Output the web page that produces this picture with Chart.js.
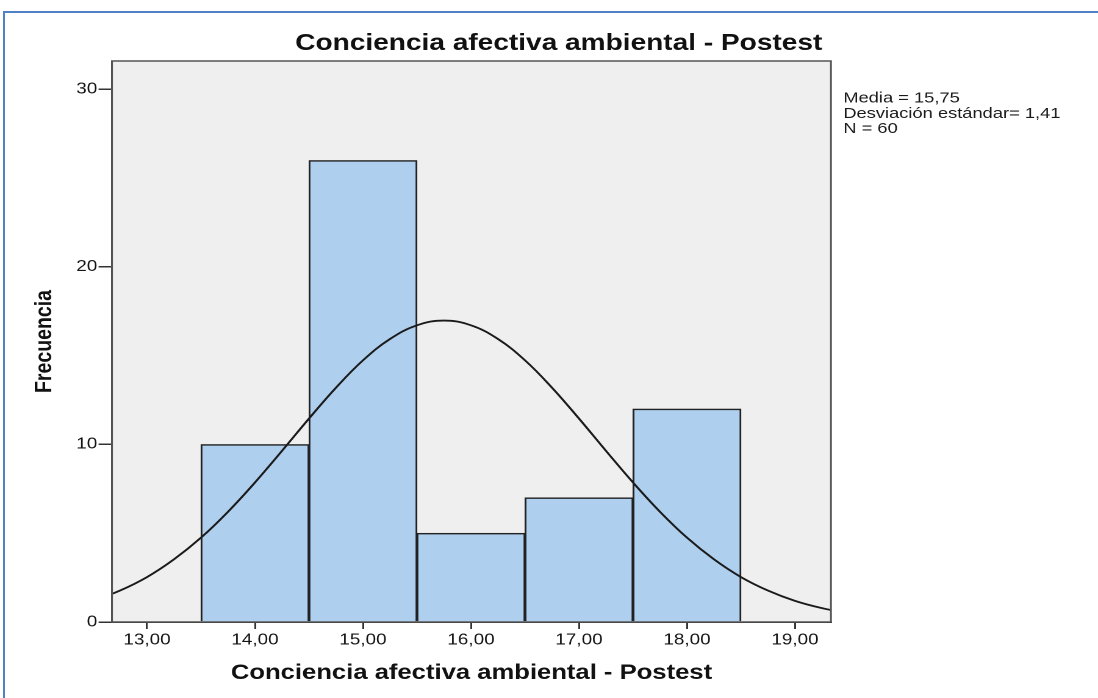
<!DOCTYPE html>
<html>
<head>
<meta charset="utf-8">
<title>Conciencia afectiva ambiental - Postest</title>
<script src="https://cdn.jsdelivr.net/npm/chart.js@4/dist/chart.umd.min.js"></script>
<style>
  html, body { margin: 0; padding: 0; background: #ffffff; width: 1098px; height: 698px; overflow: hidden; }
  #frame {
    position: absolute; left: 3px; top: 11px; width: 1200px; height: 800px;
    border-top: 2px solid #4f81c4; border-left: 2px solid #4f81c4;
  }
  #chart { position: absolute; left: 0; top: 0; }
</style>
</head>
<body>
<div id="frame"></div>
<!-- drawn on a 900px-wide surface and widened to the page width -->
<canvas id="chart" width="900" height="698" style="width:1098px;height:698px"></canvas>
<script>
// ---- chart content ----
const chartTitle = 'Conciencia afectiva ambiental - Postest';
const xAxisTitle = 'Conciencia afectiva ambiental - Postest';
const yAxisTitle = 'Frecuencia';

// histogram bins (centre of each unit-wide bin) and their counts
const binCenters  = [14, 15, 16, 17, 18];
const frequencies = [10, 26, 5, 7, 12];

// fitted normal curve (Media 15,75 ; DE 1,41 ; N 60), sampled every 0.25
const curveX = [12.5, 12.75, 13, 13.25, 13.5, 13.75, 14, 14.25, 14.5, 14.75,
                15, 15.25, 15.5, 15.75, 16, 16.25, 16.5, 16.75, 17, 17.25,
                17.5, 17.75, 18, 18.25, 18.5, 18.75, 19, 19.25, 19.5];
const curveY = [1.19, 1.77, 2.53, 3.53, 4.75, 6.21, 7.86, 9.64, 11.46, 13.20,
                14.74, 15.94, 16.71, 16.98, 16.71, 15.94, 14.74, 13.20, 11.46, 9.64,
                7.86, 6.21, 4.75, 3.53, 2.53, 1.77, 1.19, 0.78, 0.49];

const xTickValues = [13, 14, 15, 16, 17, 18, 19];
const yTickValues = [0, 10, 20, 30];
const xRange = [12.676, 19.333];
const yRange = [0, 31.6];

const statsLines = ['Media = 15,75', 'Desviación estándar= 1,41', 'N = 60'];

// ---- layout (canvas units) ----
const FONT = '"Liberation Sans", Arial, Helvetica, sans-serif';
const PLOT_LEFT = 91.8, PLOT_RIGHT = 681.1, PLOT_TOP = 61, X_AXIS_H = 76;
const CANVAS_W = 900;

const fmtComma = v => Number(v).toFixed(2).replace('.', ',');

// plot backdrop, frame, title and summary box
const decorations = {
  id: 'decorations',
  beforeDraw(chart) {
    const { ctx, chartArea: a } = chart;
    ctx.save();
    ctx.fillStyle = '#efefef';
    ctx.fillRect(a.left, a.top, a.right - a.left, a.bottom - a.top);
    ctx.restore();
  },
  afterDraw(chart) {
    const { ctx, chartArea: a } = chart;
    ctx.save();
    ctx.strokeStyle = '#555555';
    ctx.lineWidth = 1.5;
    ctx.strokeRect(a.left, a.top, a.right - a.left, a.bottom - a.top);

    ctx.fillStyle = '#111111';
    ctx.textAlign = 'center';
    ctx.textBaseline = 'middle';
    ctx.font = 'bold 23px ' + FONT;
    ctx.fillText(chartTitle, 458, 43.5);

    ctx.fillStyle = '#1a1a1a';
    ctx.textAlign = 'left';
    ctx.font = '15px ' + FONT;
    const lineYs = [98.5, 113.8, 129];
    statsLines.forEach((t, i) => ctx.fillText(t, 691.2, lineYs[i]));
    ctx.restore();
  }
};

const barPoints = binCenters.map((x, i) => ({ x: x, y: frequencies[i] }));
const curvePoints = curveX.map((x, i) => ({ x: x, y: curveY[i] }));

new Chart(document.getElementById('chart'), {
  type: 'bar',
  data: {
    datasets: [
      {
        type: 'bar',
        data: barPoints,
        backgroundColor: '#aecfee',
        borderColor: '#222222',
        borderWidth: 1.5,
        barPercentage: 1,
        categoryPercentage: 1,
        order: 2
      },
      {
        type: 'line',
        data: curvePoints,
        borderColor: '#1a1a1a',
        borderWidth: 1.8,
        pointRadius: 0,
        tension: 0.4,
        fill: false,
        order: 1
      }
    ]
  },
  options: {
    responsive: false,
    devicePixelRatio: 2,
    animation: false,
    events: [],
    layout: { padding: { left: 0, top: PLOT_TOP, right: CANVAS_W - PLOT_RIGHT, bottom: 0 } },
    plugins: { legend: { display: false }, tooltip: { enabled: false }, title: { display: false } },
    scales: {
      x: {
        type: 'linear',
        position: 'bottom',
        min: xRange[0],
        max: xRange[1],
        offset: false,
        afterBuildTicks: s => { s.ticks = xTickValues.map(v => ({ value: v })); },
        afterFit: s => { s.height = X_AXIS_H; },
        ticks: {
          autoSkip: false, maxRotation: 0, padding: 2,
          color: '#151515', font: { family: FONT, size: 15.5 },
          callback: v => fmtComma(v)
        },
        grid: { offset: false, drawOnChartArea: false, drawTicks: true, tickLength: 7, color: '#333333', lineWidth: 1.5 },
        border: { display: true, color: '#222222', width: 1.5 },
        title: {
          display: true, text: xAxisTitle, color: '#111111',
          font: { family: FONT, size: 21, weight: 'bold' },
          padding: { top: 0, bottom: 12 }
        }
      },
      y: {
        type: 'linear',
        position: 'left',
        min: yRange[0],
        max: yRange[1],
        afterBuildTicks: s => { s.ticks = yTickValues.map(v => ({ value: v })); },
        afterFit: s => { s.width = PLOT_LEFT; },
        ticks: { padding: 1, color: '#151515', font: { family: FONT, size: 15.5 } },
        grid: { drawOnChartArea: false, drawTicks: true, tickLength: 11, color: '#333333', lineWidth: 1.5 },
        border: { display: true, color: '#222222', width: 1.5 },
        title: {
          display: true, text: yAxisTitle, color: '#111111',
          font: { family: FONT, size: 19.5, weight: 'bold' },
          padding: { top: 25, bottom: 0 }
        }
      }
    }
  },
  plugins: [decorations]
});
</script>
</body>
</html>
